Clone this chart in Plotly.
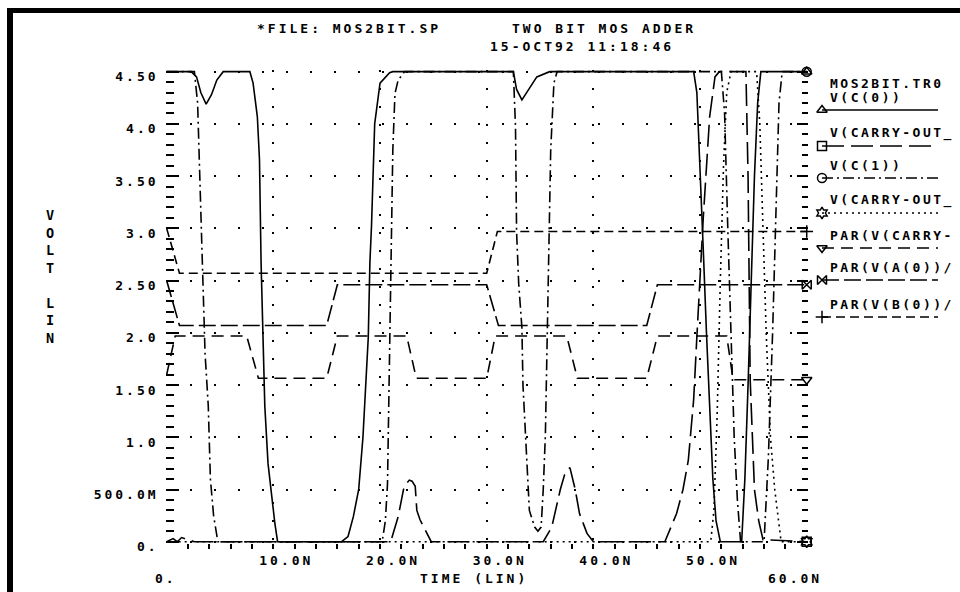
import plotly.graph_objects as go

# ---------------- data ----------------
# V(C(0))  solid
time_c0 = [0, 2.3, 2.8, 3.2, 3.7, 4.2, 4.7, 5.3, 7.8, 8.1, 8.5, 8.7, 8.85, 9.0, 9.2, 9.5, 9.85,
           10.15, 10.4, 16.4, 17.0, 17.5, 18.0, 18.4, 18.9, 19.05, 19.2, 19.5, 20.0, 20.9, 21.2,
           32.5, 32.8, 33.3, 34.0, 34.7, 35.9, 49.4, 49.7, 50.0, 50.3, 50.6, 50.9, 51.2, 51.5,
           51.9, 53.9, 54.2, 54.5, 54.8, 55.1, 55.4, 55.7, 60]
volt_c0 = [4.5, 4.5, 4.45, 4.3, 4.19, 4.28, 4.42, 4.5, 4.5, 4.39, 4.07, 3.66, 2.67, 1.96, 1.3,
           0.75, 0.43, 0.17, 0.0, 0.0, 0.05, 0.24, 0.5, 1.0, 1.96, 2.67, 3.02, 4.0, 4.39, 4.49,
           4.5, 4.5, 4.33, 4.23, 4.34, 4.45, 4.5, 4.5, 4.3, 3.6, 2.8, 2.0, 1.3, 0.6, 0.2, 0.0,
           0.0, 0.6, 1.5, 2.5, 3.5, 4.2, 4.5, 4.5]

# V(CARRY-OUT_)  long dash
time_co1 = [0, 0.6, 1.0, 1.4, 2.0, 2.6, 21.0, 21.4, 21.7, 22.2, 22.5, 22.75, 23.0, 23.3, 23.45,
            23.75, 24.4, 24.8, 35.3, 36.1, 36.9, 37.3, 37.8, 38.3, 38.7, 39.4, 40.0, 46.7, 47.8,
            48.4, 48.9, 49.4, 49.7, 50.3, 50.9, 51.4, 51.8, 54.3, 54.5, 54.7, 55.1, 55.5, 55.9, 60]
volt_co1 = [0.0, 0.03, 0.0, 0.04, 0.02, 0.0, 0.0, 0.14, 0.24, 0.5, 0.56, 0.59, 0.58, 0.53, 0.3,
            0.21, 0.08, 0.0, 0.0, 0.14, 0.5, 0.64, 0.71, 0.5, 0.27, 0.08, 0.0, 0.0, 0.27, 0.5,
            0.78, 1.36, 1.96, 3.1, 4.07, 4.45, 4.5, 4.5, 3.5, 1.55, 0.5, 0.2, 0.02, 0.0]

# V(C(1))  dash-dot
time_c1 = [0, 2.6, 2.9, 3.06, 3.3, 3.6, 3.9, 4.1, 4.4, 4.8, 20.2, 20.5, 20.7, 20.9, 21.0, 21.2,
           21.4, 21.7, 22.3, 32.5, 32.7, 32.8, 33.0, 33.3, 33.4, 33.7, 34.0, 34.5, 34.8, 35.1,
           35.3, 35.5, 35.6, 35.7, 35.9, 36.0, 36.3, 36.6, 52.0, 52.3, 52.6, 52.9, 53.2, 53.5,
           53.8, 56.0, 56.4, 56.8, 57.1, 57.4, 57.7, 60]
volt_c1 = [4.5, 4.5, 4.2, 3.66, 2.67, 1.8, 1.3, 0.6, 0.25, 0.0, 0.0, 0.2, 0.55, 1.9, 2.67, 3.75,
           4.29, 4.42, 4.5, 4.5, 3.97, 2.97, 2.47, 2.05, 1.5, 0.87, 0.3, 0.14, 0.1, 0.14, 0.5,
           1.02, 1.5, 2.05, 2.97, 3.75, 4.39, 4.5, 4.5, 4.1, 3.0, 2.0, 1.0, 0.4, 0.0, 0.0, 0.8,
           2.0, 3.2, 4.2, 4.5, 4.5]

# V(CARRY-OUT_)  dotted
time_co2 = [0, 51.0, 51.3, 51.6, 51.9, 52.2, 52.5, 52.9, 55.3, 55.6, 55.9, 56.2, 56.6, 57.0, 57.6, 60]
volt_co2 = [0.0, 0.0, 0.3, 1.2, 2.5, 3.6, 4.3, 4.5, 4.5, 4.0, 3.0, 2.0, 1.0, 0.5, 0.0, 0.0]

# PAR(V(CARRY-...
time_cin = [0, 0.8, 7.5, 8.6, 15.0, 16.0, 22.5, 23.4, 30.0, 30.8, 37.5, 38.5, 45.0, 46.0, 52.5, 53.1, 60]
volt_cin = [1.6, 1.97, 1.97, 1.565, 1.565, 1.97, 1.97, 1.565, 1.565, 1.97, 1.97, 1.565, 1.565,
            1.97, 1.97, 1.55, 1.55]

# PAR(V(A(0))/...
time_a0 = [0, 1.2, 15.0, 16.0, 30.0, 31.1, 45.0, 46.0, 60]
volt_a0 = [2.5, 2.07, 2.07, 2.46, 2.46, 2.07, 2.07, 2.46, 2.46]

# PAR(V(B(0))/...
time_b0 = [0, 1.2, 30.0, 31.0, 60]
volt_b0 = [3.0, 2.57, 2.57, 2.97, 2.97]

legend_names = ["V(C(0))", "V(CARRY-OUT_", "V(C(1))", "V(CARRY-OUT_",
                "PAR(V(CARRY-", "PAR(V(A(0))/", "PAR(V(B(0))/"]
y_tick_vals = [0, 0.5, 1.0, 1.5, 2.0, 2.5, 3.0, 3.5, 4.0, 4.5]
y_tick_text = ["0.", "500.0M", "1.0", "1.50", "2.0", "2.50", "3.0", "3.50", "4.0", "4.50"]
x_tick_vals = [10, 20, 30, 40, 50]
x_tick_text = ["10.0N", "20.0N", "30.0N", "40.0N", "50.0N"]
x_first_label, x_last_label = "0.", "60.0N"
title_left = "*FILE: MOS2BIT.SP"
title_right = "TWO BIT MOS ADDER"
title_date = "15-OCT92 11:18:46"
file_label = "MOS2BIT.TR0"
x_title = "TIME (LIN)"
y_title = "VOLT LIN"

# ---------------- styling / layout ----------------
W, H = 960, 592
PX_L, PX_R = 165.6, 807.8        # plot area in pixels
PX_T, PX_B = 70.1, 543.3
FONT = "DejaVu Sans Mono"
INK = "black"


def hs(s, sp=3):
    return f'<span style="letter-spacing:{sp}px">{s}</span>'


styles = [
    dict(dash="solid", symbol="triangle-up-open"),
    dict(dash="22px,7px", symbol="square-open"),
    dict(dash="11px,4px,2px,4px", symbol="circle-open"),
    dict(dash="2px,4px", symbol="hexagram-open"),
    dict(dash="12px,7px", symbol="triangle-down-open"),
    dict(dash="17px,5px", symbol="bowtie-open"),
    dict(dash="9px,5px", symbol="cross-thin-open"),
]
series = [(time_c0, volt_c0), (time_co1, volt_co1), (time_c1, volt_c1), (time_co2, volt_co2),
          (time_cin, volt_cin), (time_a0, volt_a0), (time_b0, volt_b0)]
legend_y = [110, 146, 178, 213, 248, 280, 317]

fig = go.Figure()
for (t, v), st in zip(series, styles):
    fig.add_trace(go.Scatter(x=t, y=v, mode="lines", hoverinfo="skip", showlegend=False,
                             line=dict(color=INK, width=1.6, dash=st["dash"])))
for (t, v), st in zip(series, styles):
    fig.add_trace(go.Scatter(x=[t[-1]], y=[v[-1]], mode="markers", hoverinfo="skip",
                             showlegend=False, cliponaxis=False,
                             marker=dict(symbol=st["symbol"], size=9, color=INK,
                                         line=dict(color=INK, width=1.5))))
fig.add_trace(go.Scatter(x=[None], y=[None], yaxis="y2", showlegend=False, hoverinfo="skip"))

for st, ly in zip(styles, legend_y):
    fig.add_trace(go.Scatter(x=[822, 938], y=[ly, ly], xaxis="x2", yaxis="y3", mode="lines",
                             hoverinfo="skip", showlegend=False,
                             line=dict(color=INK, width=1.6, dash=st["dash"])))
    fig.add_trace(go.Scatter(x=[822], y=[ly], xaxis="x2", yaxis="y3", mode="markers",
                             hoverinfo="skip", showlegend=False, cliponaxis=False,
                             marker=dict(symbol=st["symbol"], size=9, color=INK,
                                         line=dict(color=INK, width=1.5))))

tfont = dict(family=FONT, size=13, color=INK, weight="bold")
y_minor = [round(i * 0.1, 2) for i in range(46) if i % 5]
x_minor = [i for i in range(0, 61, 2) if i % 10]

fig.update_layout(
    width=W, height=H, margin=dict(l=0, r=0, t=0, b=0, pad=0, autoexpand=False),
    paper_bgcolor="white", plot_bgcolor="rgba(0,0,0,0)", showlegend=False,
    xaxis=dict(domain=[PX_L / W, PX_R / W], range=[-0.1, 60.1], anchor="y",
               tickmode="array", tickvals=x_tick_vals, ticktext=[hs(s) for s in x_tick_text],
               ticks="outside", ticklen=5, tickwidth=1.5, tickcolor=INK, tickfont=tfont,
               ticklabelshift=13, ticklabelstandoff=0,
               minor=dict(tickmode="array", tickvals=x_minor, ticks="outside", ticklen=5,
                          tickwidth=1.5, tickcolor=INK, showgrid=False),
               showgrid=True, gridcolor=INK, gridwidth=1.5, griddash="2px,16px",
               zeroline=False, showline=False, fixedrange=True, automargin=False),
    yaxis=dict(domain=[1 - PX_B / H, 1 - PX_T / H], range=[-0.015, 4.515], anchor="x",
               tickmode="array", tickvals=y_tick_vals, ticktext=[hs(s) for s in y_tick_text],
               ticks="inside", ticklen=13, tickwidth=1.5, tickcolor=INK, tickfont=tfont,
               ticklabelstandoff=6, ticklabelshift=5,
               minor=dict(tickmode="array", tickvals=y_minor, ticks="inside", ticklen=8,
                          tickwidth=1.5, tickcolor=INK, showgrid=False),
               showgrid=True, gridcolor=INK, gridwidth=1.5, griddash="2px,22px",
               zeroline=False, showline=False, fixedrange=True, automargin=False),
    yaxis2=dict(overlaying="y", side="right", anchor="x", range=[-0.015, 4.515],
                tickmode="array", tickvals=y_tick_vals, showticklabels=False,
                ticks="inside", ticklen=11, tickwidth=1.5, tickcolor=INK,
                minor=dict(tickmode="array", tickvals=y_minor, ticks="inside", ticklen=6,
                           tickwidth=1.5, tickcolor=INK, showgrid=False),
                showgrid=False, zeroline=False, showline=False, fixedrange=True),
    xaxis2=dict(domain=[0, 1], range=[0, W], anchor="y3", visible=False, fixedrange=True),
    yaxis3=dict(domain=[0, 1], range=[H, 0], anchor="x2", visible=False, fixedrange=True),
)

annots = []


def txt(x, y, s, xanchor="left", sp=3, size=13):
    annots.append(dict(x=x, y=y, xref="x2", yref="y3", text=hs(s, sp), showarrow=False,
                       xanchor=xanchor, yanchor="middle",
                       font=dict(family=FONT, size=size, color=INK, weight="bold")))


txt(255, 28, title_left)
txt(510, 28, title_right)
txt(488, 46, title_date)
txt(828, 83, file_label, sp=2.5)
for name, ly in zip(legend_names, legend_y):
    txt(828, ly - 13, name, sp=2.5)
txt(166, 578, x_first_label, xanchor="center")
txt(474, 578, x_title, xanchor="center")
txt(795, 578, x_last_label, xanchor="center")
annots.append(dict(x=50, y=276, xref="x2", yref="y3", showarrow=False,
                   text="<br>".join(list(y_title)),
                   xanchor="center", yanchor="middle", align="center",
                   font=dict(family=FONT, size=13.5, color=INK, weight="bold")))
fig.update_layout(annotations=annots)

# window frame (thick left and top borders)
fig.update_layout(shapes=[
    dict(type="rect", xref="paper", yref="paper", x0=7 / W, x1=13 / W, y0=0, y1=1 - 8 / H,
         fillcolor=INK, line=dict(width=0), layer="above"),
    dict(type="rect", xref="paper", yref="paper", x0=7 / W, x1=1, y0=1 - 13 / H, y1=1 - 8 / H,
         fillcolor=INK, line=dict(width=0), layer="above"),
])

page_fix = ("document.documentElement.style.margin='0';document.body.style.margin='0';"
            "document.documentElement.style.overflow='hidden';document.body.style.overflow='hidden';")
fig.write_html("out.html", config={"displayModeBar": False}, post_script=page_fix)
